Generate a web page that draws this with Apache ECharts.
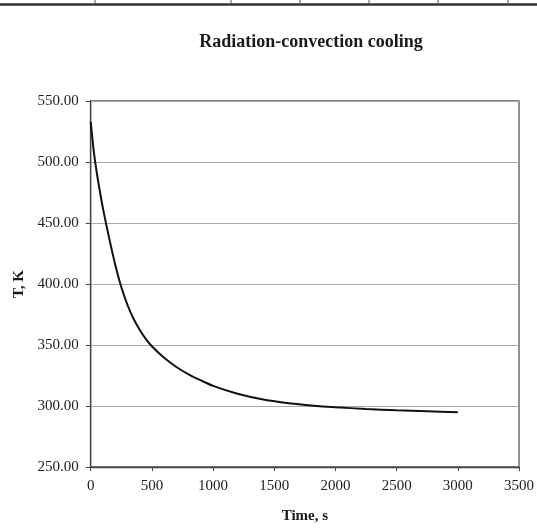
<!DOCTYPE html>
<html>
<head>
<meta charset="utf-8">
<script src="https://cdn.jsdelivr.net/npm/echarts@6/dist/echarts.min.js"></script>
<style>
html,body{margin:0;padding:0;background:#fff;}
#chart{width:537px;height:529px;}
</style>
</head>
<body>
<div id="chart"></div>
<script>
const titleText = 'Radiation-convection cooling';
const xName = 'Time, s';
const yName = 'T, K';
const timeS = [0, 25, 50, 75, 100, 150, 200, 250, 300, 350, 400, 450, 500, 600, 700, 800, 900, 1000, 1200, 1400, 1600, 1800, 2000, 2250, 2500, 2750, 3000];
const tempK = [533, 509, 491, 476, 462, 438, 416, 397.5, 383, 371.5, 362.5, 355, 349, 339.5, 332, 326, 321, 316.5, 310, 305.5, 302.5, 300.5, 299, 297.6, 296.5, 295.6, 294.8];
const xTicks = [0, 3500, 500];
const yTicks = [250, 550, 50];

const serif = '"Liberation Serif", "DejaVu Serif", serif';
const chart = echarts.init(document.getElementById('chart'));
const seriesData = timeS.map((t, i) => [t, tempK[i]]);
const topVerticals = [95, 231, 300, 369, 438, 508];

chart.setOption({
  animation: false,
  backgroundColor: '#fff',
  title: {
    text: titleText,
    left: 306,
    top: 28,
    textAlign: 'center',
    textStyle: { fontFamily: serif, fontWeight: 'bold', fontSize: 18, color: '#1a1a1a' }
  },
  grid: {
    left: 90.7, right: 16.3, top: 101, bottom: 59,
    show: true, borderColor: '#555', borderWidth: 1.3, backgroundColor: 'transparent'
  },
  xAxis: {
    type: 'value',
    min: xTicks[0], max: xTicks[1], interval: xTicks[2],
    name: xName,
    nameLocation: 'middle',
    nameGap: 42,
    nameTextStyle: { fontFamily: serif, fontWeight: 'bold', fontSize: 15, color: '#1a1a1a' },
    axisLine: { lineStyle: { color: '#444', width: 1.3 } },
    axisTick: { show: true, inside: false, length: 4, lineStyle: { color: '#444' } },
    axisLabel: { margin: 12, fontFamily: serif, fontSize: 15, color: '#222',
      formatter: v => String(v) },
    splitLine: { show: false }
  },
  yAxis: {
    type: 'value',
    min: yTicks[0], max: yTicks[1], interval: yTicks[2],
    name: yName,
    nameLocation: 'middle',
    nameGap: 60,
    nameRotate: 90,
    nameTextStyle: { fontFamily: serif, fontWeight: 'bold', fontSize: 15, color: '#1a1a1a' },
    axisLine: { show: true, lineStyle: { color: '#444', width: 1.3 } },
    axisTick: { show: true, inside: false, length: 5, lineStyle: { color: '#444' } },
    axisLabel: { margin: 12, fontFamily: serif, fontSize: 15, color: '#222',
      formatter: v => v.toFixed(2) },
    splitLine: { show: true, lineStyle: { color: '#aaa', width: 1 } }
  },
  graphic: [
    { type: 'line', shape: { x1: 0, y1: 4.5, x2: 537, y2: 4.5 }, style: { stroke: '#333', lineWidth: 2.5 } }
  ].concat(topVerticals.map(x => ({
    type: 'line', shape: { x1: x, y1: 0, x2: x, y2: 4 }, style: { stroke: '#555', lineWidth: 1 }
  }))),
  series: [{
    type: 'line',
    data: seriesData,
    smooth: 0.3,
    showSymbol: false,
    lineStyle: { color: '#111', width: 2 }
  }]
});
</script>
</body>
</html>
